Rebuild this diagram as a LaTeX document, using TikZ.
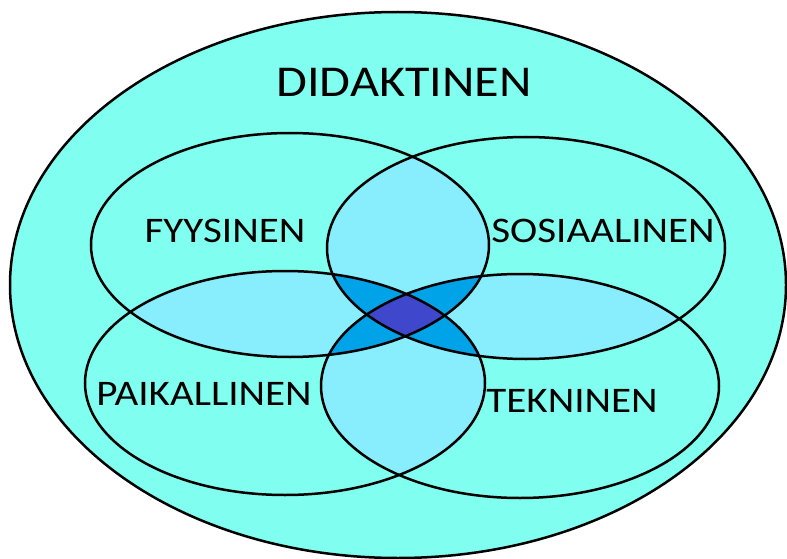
\documentclass[tikz,border=0pt]{standalone}
\usepackage{fontspec}
\setmainfont{Carlito}
\definecolor{outerfill}{HTML}{80FFF0}
\definecolor{pairfill}{HTML}{88EEFD}
\definecolor{triplefill}{HTML}{00A2E8}
\definecolor{quadfill}{HTML}{3F48CC}
\tikzset{
  outline/.style={draw=black, line width=2.5pt},
  lbl/.style={inner sep=0pt, text=black},
}
\newcommand{\wide}[1]{\scalebox{1.14}[1]{#1}}
\def\EO{(398,285) ellipse [x radius=388pt, y radius=273pt]}
\def\EF{(290,245) ellipse [x radius=199pt, y radius=112pt]}
\def\ES{(526,248) ellipse [x radius=199pt, y radius=111pt]}
\def\EP{(285,383) ellipse [x radius=200pt, y radius=112pt]}
\def\ET{(520,386) ellipse [x radius=199pt, y radius=112pt]}
\begin{document}
\begin{tikzpicture}[x=1pt,y=-1pt]
\useasboundingbox (0,0) rectangle (787,559);
\fill[outerfill] \EO;
% pairwise overlaps
\foreach \A/\B in {\EF/\ES,\EF/\EP,\EF/\ET,\ES/\EP,\ES/\ET,\EP/\ET}{
  \begin{scope}\clip \A; \fill[pairfill] \B; \end{scope}
}
% triple overlaps
\foreach \A/\B/\C in {\EF/\ES/\EP,\EF/\ES/\ET,\EF/\EP/\ET,\ES/\EP/\ET}{
  \begin{scope}\clip \A; \clip \B; \fill[triplefill] \C; \end{scope}
}
% quadruple overlap
\begin{scope}\clip \EF; \clip \ES; \clip \EP; \fill[quadfill] \ET; \end{scope}
\draw[outline] \EO;
\draw[outline] \EF;
\draw[outline] \ES;
\draw[outline] \EP;
\draw[outline] \ET;
\node[lbl, font=\fontsize{44}{50}\selectfont] (did) at (404,82) {\wide{DIDAKTINEN}};
\node[lbl, font=\fontsize{36}{40}\selectfont] (fyy) at (225,231) {\wide{FYYSINEN}};
\node[lbl, font=\fontsize{36}{40}\selectfont] (sos) at (603,231) {\wide{SOSIAALINEN}};
\node[lbl, font=\fontsize{36}{40}\selectfont] (pai) at (204,394) {\wide{PAIKALLINEN}};
\node[lbl, font=\fontsize{36}{40}\selectfont] (tek) at (572,401) {\wide{TEKNINEN}};
\end{tikzpicture}
\end{document}
